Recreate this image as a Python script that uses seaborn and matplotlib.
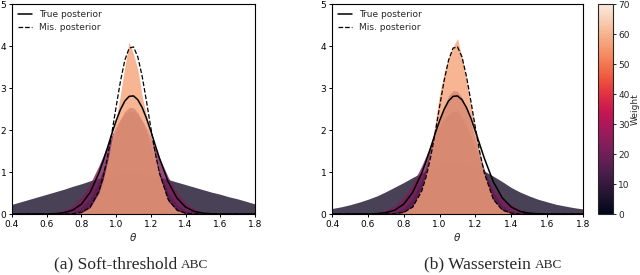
import numpy as np
import matplotlib
matplotlib.use("Agg")
import matplotlib.pyplot as plt
import seaborn as sns

# ---------------- data ----------------
theta = [0.40, 0.45, 0.50, 0.55, 0.60, 0.65, 0.70, 0.75, 0.80, 0.85,
         0.90, 0.925, 0.95, 0.975, 1.00, 1.025, 1.05, 1.075, 1.10, 1.125,
         1.15, 1.175, 1.20, 1.225, 1.25, 1.30, 1.35, 1.40, 1.45, 1.50,
         1.55, 1.60, 1.65, 1.70, 1.75, 1.80]

true_post = [0, 0, 0.0001, 0.0005, 0.0023, 0.0092, 0.031, 0.092, 0.234, 0.513,
             0.969, 1.260, 1.579, 1.907, 2.220, 2.489, 2.690, 2.801, 2.812, 2.720,
             2.535, 2.277, 1.971, 1.645, 1.323, 0.764, 0.382, 0.164, 0.061, 0.0196,
             0.0054, 0.0013, 0, 0, 0, 0]

mis_post = [0, 0, 0, 0, 0, 0, 0.0009, 0.0066, 0.038, 0.164,
            0.541, 0.885, 1.350, 1.922, 2.554, 3.165, 3.661, 3.950, 3.978, 3.738,
            3.277, 2.680, 2.046, 1.457, 0.968, 0.348, 0.0945, 0.0195, 0.003, 0,
            0, 0, 0, 0, 0, 0]

# Soft-threshold ABC: weighted ABC posterior layers (low weight -> high weight)
soft_low = [0.23, 0.29, 0.35, 0.41, 0.47, 0.53, 0.59, 0.66, 0.72, 0.79,
            0.85, 0.88, 0.91, 0.94, 0.96, 0.98, 0.99, 1.00, 1.00, 0.99,
            0.98, 0.96, 0.94, 0.91, 0.88, 0.82, 0.76, 0.70, 0.64, 0.58,
            0.52, 0.47, 0.41, 0.36, 0.30, 0.24]
soft_midA = [0.0001, 0.0003, 0.0012, 0.0042, 0.013, 0.037, 0.091, 0.202, 0.403, 0.718,
             1.145, 1.387, 1.634, 1.872, 2.087, 2.262, 2.384, 2.445, 2.438, 2.364,
             2.23, 2.046, 1.826, 1.585, 1.338, 0.877, 0.515, 0.270, 0.127, 0.053,
             0.020, 0.0068, 0.002, 0, 0, 0]
soft_midB = [0, 0, 0, 0.0001, 0.0007, 0.0036, 0.0148, 0.052, 0.152, 0.375,
             0.778, 1.048, 1.354, 1.675, 1.984, 2.25, 2.443, 2.541, 2.53, 2.412,
             2.202, 1.925, 1.611, 1.291, 0.991, 0.512, 0.223, 0.081, 0.025, 0.0064,
             0.0015, 0, 0, 0, 0, 0]
soft_high = [0, 0, 0, 0, 0, 0, 0, 0.005, 0.03, 0.15,
             0.5, 0.82, 1.25, 1.75, 2.25, 2.85, 3.5, 4.1, 3.8, 3.45,
             2.8, 2.35, 1.85, 1.35, 0.9, 0.3, 0.08, 0.01, 0, 0,
             0, 0, 0, 0, 0, 0]

# Wasserstein ABC: weighted ABC posterior layers
wass_low = [0.13, 0.17, 0.22, 0.28, 0.35, 0.43, 0.53, 0.64, 0.75, 0.87,
            0.98, 1.03, 1.08, 1.12, 1.16, 1.19, 1.21, 1.22, 1.22, 1.21,
            1.18, 1.15, 1.11, 1.07, 1.02, 0.90, 0.77, 0.63, 0.52, 0.43,
            0.35, 0.29, 0.23, 0.19, 0.15, 0.12]
wass_midA = [0.0001, 0.0003, 0.0012, 0.0042, 0.013, 0.037, 0.091, 0.202, 0.403, 0.718,
             1.145, 1.387, 1.634, 1.872, 2.087, 2.262, 2.384, 2.445, 2.438, 2.3,
             2.1, 1.85, 1.58, 1.28, 1.0, 0.62, 0.38, 0.22, 0.1, 0.035,
             0.01, 0, 0, 0, 0, 0]
wass_midB = [0, 0, 0, 0, 0.0004, 0.0023, 0.011, 0.042, 0.137, 0.366,
             0.81, 1.121, 1.481, 1.867, 2.245, 2.575, 2.817, 2.939, 2.925, 2.777,
             2.514, 2.172, 1.789, 1.406, 1.054, 0.513, 0.207, 0.069, 0.019, 0.004,
             0, 0, 0, 0, 0, 0]
wass_high = [0, 0, 0, 0, 0, 0, 0, 0.006, 0.04, 0.18,
             0.6, 0.98, 1.5, 2.15, 2.85, 3.35, 3.72, 3.98, 4.18, 3.75,
             3.2, 2.6, 2.0, 1.42, 0.95, 0.33, 0.09, 0.015, 0, 0,
             0, 0, 0, 0, 0, 0]

# weight of each layer, in drawing order (colour on the "Weight" bar)
layer_weights = [5, 22, 16, 57]

x_ticks = [0.4, 0.6, 0.8, 1.0, 1.2, 1.4, 1.6, 1.8]
y_ticks = [0, 1, 2, 3, 4, 5]
cbar_ticks = [0, 10, 20, 30, 40, 50, 60, 70]
captions = [("(a) Soft-threshold", "ABC"), ("(b) Wasserstein", "ABC")]

# ---------------- drawing ----------------
sns.set_theme(style="ticks")
plt.rcParams["font.family"] = ["DejaVu Sans"]

W, H = 640, 275
fig = plt.figure(figsize=(W / 100, H / 100), dpi=100)

cmap = sns.color_palette("rocket", as_cmap=True)
norm = matplotlib.colors.Normalize(vmin=0, vmax=70)

def px_axes(x0, y0, x1, y1):
    return fig.add_axes([x0 / W, 1 - y1 / H, (x1 - x0) / W, (y1 - y0) / H])

ax_l = px_axes(12, 4, 255, 214)
ax_r = px_axes(332, 4, 583, 214)
cax = px_axes(598, 4, 613, 214)

panels = [
    (ax_l, [soft_low, soft_midA, soft_midB, soft_high]),
    (ax_r, [wass_low, wass_midA, wass_midB, wass_high]),
]

for ax, layers in panels:
    for dens, w in zip(layers, layer_weights):
        ax.fill_between(theta, 0, dens, color=cmap(norm(w)), alpha=0.8,
                        linewidth=0)
    sns.lineplot(x=theta, y=true_post, ax=ax, color="black", lw=1.1,
                 label="True posterior")
    sns.lineplot(x=theta, y=mis_post, ax=ax, color="black", lw=0.9,
                 linestyle="--", label="Mis. posterior")
    ax.set_xlim(0.4, 1.8)
    ax.set_ylim(0, 5)
    ax.set_xticks(x_ticks)
    ax.set_xticklabels([f"{v:.1f}" for v in x_ticks])
    ax.set_yticks(y_ticks)
    ax.tick_params(labelsize=6.5, length=2.5, width=0.7, pad=1.5,
                   colors="black")
    for s in ax.spines.values():
        s.set_visible(True)
        s.set_linewidth(0.8)
        s.set_color("black")
    ax.set_xlabel(r"$\theta$", fontsize=7.5, labelpad=1.5)
    ax.set_ylabel("")
    ax.legend(loc="upper left", frameon=False, fontsize=6.5,
              handlelength=1.5, handletextpad=0.8, borderaxespad=0.3,
              labelspacing=0.45)

sm = matplotlib.cm.ScalarMappable(norm=norm, cmap=cmap)
cb = fig.colorbar(sm, cax=cax, ticks=cbar_ticks)
cb.ax.tick_params(labelsize=6.5, length=2.5, width=0.7, pad=1.2)
cb.outline.set_linewidth(0.8)
cb.set_label("Weight", fontsize=6.5, labelpad=0.5)

# captions with small-caps "ABC"
fig.canvas.draw()
renderer = fig.canvas.get_renderer()
for (main, sc), xc in zip(captions, [131, 493]):
    t1 = fig.text(0, 1 - 264 / H, main, fontsize=12.5, va="center",
                  family="Liberation Serif")
    t2 = fig.text(0, 1 - 264 / H, sc, fontsize=9.5, va="center",
                  family="Liberation Serif")
    w1 = t1.get_window_extent(renderer).width
    w2 = t2.get_window_extent(renderer).width
    gap = 4
    start = xc - (w1 + gap + w2) / 2
    t1.set_x(start / W)
    t2.set_x((start + w1 + gap) / W)
    t2.set_y(1 - 264.8 / H)

fig.savefig("out.png", dpi=100)
